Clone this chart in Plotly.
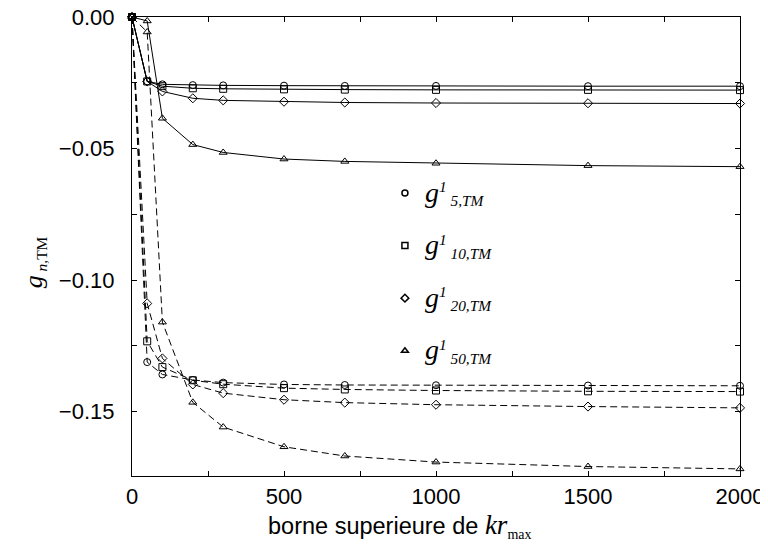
import plotly.graph_objects as go

# borne superieure de kr_max
kr_max = [0, 50, 100, 200, 300, 500, 700, 1000, 1500, 2000]

# courbes pleines (g^1_{n,TM}, serie 1)
g5_solid = [0, -0.0245, -0.0256, -0.0259, -0.0260, -0.0261, -0.0262, -0.0262, -0.0263, -0.0263]
g10_solid = [0, -0.0245, -0.0263, -0.0271, -0.0273, -0.0275, -0.0276, -0.0277, -0.0277, -0.0278]
g20_solid = [0, -0.0245, -0.0283, -0.0309, -0.0317, -0.0322, -0.0325, -0.0327, -0.0328, -0.0329]
g50_solid = [0, -0.0015, -0.0385, -0.0485, -0.0515, -0.0540, -0.0549, -0.0556, -0.0565, -0.0569]

# courbes en tirets
g5_dash = [0, -0.1312, -0.1359, -0.1380, -0.1390, -0.1397, -0.1399, -0.1400, -0.1401, -0.1402]
g10_dash = [0, -0.1233, -0.1331, -0.1381, -0.1396, -0.1411, -0.1416, -0.1420, -0.1423, -0.1424]
g20_dash = [0, -0.1089, -0.1298, -0.1397, -0.1430, -0.1455, -0.1466, -0.1474, -0.1481, -0.1486]
g50_dash = [0, -0.0057, -0.1160, -0.1465, -0.1559, -0.1634, -0.1669, -0.1692, -0.1709, -0.1718]

labels = ["5,TM", "10,TM", "20,TM", "50,TM"]
symbols = ["circle-open", "square-open", "diamond-open", "triangle-up-open"]

y_ticks = [0, -0.05, -0.10, -0.15]
y_ticktext = ["0.00", "\u22120.05", "\u22120.10", "\u22120.15"]
x_ticks = [0, 500, 1000, 1500, 2000]

SERIF = "Liberation Serif, Times New Roman, serif"
SANS = "Liberation Sans, Arial, sans-serif"

fig = go.Figure()

series = [
    (g5_solid, g5_dash),
    (g10_solid, g10_dash),
    (g20_solid, g20_dash),
    (g50_solid, g50_dash),
]

for (solid, dash), sym in zip(series, symbols):
    for ys, style in [(solid, "solid"), (dash, "7px,4px")]:
        fig.add_trace(go.Scatter(
            x=kr_max, y=ys,
            mode="lines+markers",
            line=dict(color="black", width=1, dash=style),
            marker=dict(symbol=sym, size=7, color="black", line=dict(width=1, color="black")),
            cliponaxis=False,
            showlegend=False,
        ))

# entrees de legende (marqueurs seuls)
for lbl, sym in zip(labels, symbols):
    fig.add_trace(go.Scatter(
        x=[None], y=[None],
        mode="markers",
        marker=dict(symbol=sym, size=6, color="black", line=dict(width=1.5, color="black")),
        name=(f"<span style='font-size:28px'><i>g</i></span>"
              f"<sup><i>1</i></sup><sub><i> {lbl}</i></sub>"),
        legendgroup=lbl,
    ))

fig.update_layout(
    width=768, height=549,
    margin=dict(l=124, r=36, t=9, b=81),
    paper_bgcolor="white",
    plot_bgcolor="white",
    font=dict(family=SANS, size=22, color="black"),
    legend=dict(
        x=0.416, y=0.662, xanchor="left", yanchor="top",
        bgcolor="rgba(0,0,0,0)",
        font=dict(family=SERIF, size=22),
        tracegroupgap=21,
        itemwidth=30,
    ),
    annotations=[
        dict(
            text="<span style='font-size:26px'><i>g</i></span><sub> <i>n</i>,TM</sub>",
            xref="paper", yref="paper", x=-0.16, y=0.465,
            xanchor="center", yanchor="middle",
            textangle=-90, showarrow=False,
            font=dict(family=SERIF, size=22),
        ),
        dict(
            text=("borne superieure de "
                  f"<span style='font-family:{SERIF};font-size:27px'><i>kr</i></span>"
                  f"<span style='font-family:{SERIF}'><sub><span style='font-size:14px'>max</span></sub></span>"),
            xref="paper", yref="paper", x=0.44, y=-0.108,
            xanchor="center", yanchor="middle", showarrow=False,
            font=dict(family=SANS, size=23.5),
        ),
    ],
)

fig.update_xaxes(
    range=[0, 2000],
    tickvals=x_ticks,
    ticks="inside", ticklen=5, tickcolor="black",
    minor=dict(dtick=250, ticks="inside", ticklen=5, tickcolor="black"),
    showline=True, linecolor="black", linewidth=1.2, mirror="ticks",
    showgrid=False, zeroline=False, automargin=False, ticklabeloverflow="allow",
)
fig.update_yaxes(
    range=[-0.1745, 0],
    tickvals=y_ticks, ticktext=y_ticktext,
    ticks="inside", ticklen=5, tickcolor="black", ticklabelstandoff=12,
    minor=dict(dtick=0.025, ticks="inside", ticklen=5, tickcolor="black"),
    showline=True, linecolor="black", linewidth=1.2, mirror="ticks",
    showgrid=False, zeroline=False, automargin=False, ticklabeloverflow="allow",
)

fig.write_html("out.html")
